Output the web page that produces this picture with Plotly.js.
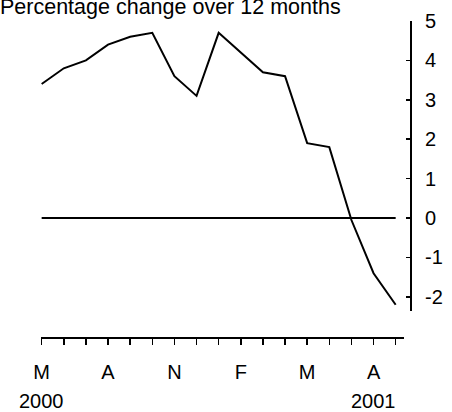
<!DOCTYPE html>
<html>
<head>
<meta charset="utf-8">
<script src="https://cdn.plot.ly/plotly-3.0.1.min.js"></script>
<style>html,body{margin:0;padding:0;background:#fff;}#chart{width:452px;height:412px;}</style>
</head>
<body>
<div id="chart"></div>
<script>
// Months May 2000 .. Sep 2001
const months = ['May 2000','Jun 2000','Jul 2000','Aug 2000','Sep 2000','Oct 2000','Nov 2000','Dec 2000',
  'Jan 2001','Feb 2001','Mar 2001','Apr 2001','May 2001','Jun 2001','Jul 2001','Aug 2001','Sep 2001'];
const pctChange = [3.4, 3.8, 4.0, 4.4, 4.6, 4.7, 3.6, 3.1, 4.7, 4.2, 3.7, 3.6, 1.9, 1.8, -0.05, -1.4, -2.2];
const zeroLine = [0, 0, 0, 0, 0, 0, 0, 0, 0, 0, 0, 0, 0, 0, 0, 0, 0];
const tickLabels = ['M','','','A','','','N','','','F','','','M','','','A',''];
const yearLabels = ['2000', '2001'];
const yearLabelIndex = [0, 15];
const yTicks = [5, 4, 3, 2, 1, 0, -1, -2];

const idx = months.map((m, i) => i);
const FONT = 'Liberation Sans, Arial, sans-serif';

const traces = [
  {x: idx, y: zeroLine, type: 'scatter', mode: 'lines', line: {color: '#000', width: 2}, hoverinfo: 'skip'},
  {x: idx, y: pctChange, type: 'scatter', mode: 'lines', line: {color: '#000', width: 2}, text: months}
];

const layout = {
  width: 452, height: 412,
  margin: {l: 41, r: 41, t: 21, b: 74, pad: 0},
  paper_bgcolor: '#fff', plot_bgcolor: '#fff',
  showlegend: false,
  font: {family: FONT, color: '#000', size: 20},
  title: {text: 'Percentage change over 12 months', x: 0, xref: 'container', xanchor: 'left',
          y: 0.984, yref: 'container', yanchor: 'middle', font: {size: 21.5, family: FONT, color: '#000'}},
  xaxis: {
    domain: [0, 0.981], range: [-0.03, 16.375], anchor: 'free', position: 0,
    tickmode: 'array', tickvals: idx, ticktext: tickLabels,
    ticks: 'outside', ticklen: 6, tickwidth: 1.5, tickcolor: '#000',
    showline: true, linewidth: 2, linecolor: '#000',
    showgrid: false, zeroline: false, ticklabelstandoff: 10,
    tickfont: {size: 20, family: FONT, color: '#000'}
  },
  yaxis: {
    domain: [0.085, 1], range: [-2.36, 5], anchor: 'free', position: 1, side: 'right',
    tickmode: 'array', tickvals: yTicks, ticktext: yTicks.map(String),
    ticks: 'inside', ticklen: 4, tickwidth: 1.5, tickcolor: '#000',
    showline: true, linewidth: 2, linecolor: '#000',
    showgrid: false, zeroline: false, ticklabelstandoff: 9,
    tickfont: {size: 20, family: FONT, color: '#000'}
  },
  annotations: yearLabels.map((t, i) => ({
    text: t, x: yearLabelIndex[i], xref: 'x', y: -0.198, yref: 'paper',
    xanchor: 'center', yanchor: 'middle', showarrow: false,
    font: {size: 20, family: FONT, color: '#000'}
  }))
};

Plotly.newPlot('chart', traces, layout, {staticPlot: true, displayModeBar: false});
</script>
</body>
</html>
